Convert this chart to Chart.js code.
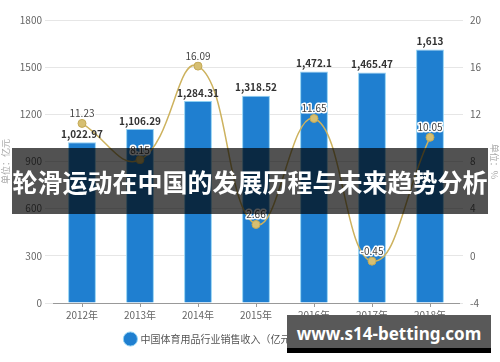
<!DOCTYPE html>
<html>
<head>
<meta charset="utf-8">
<script src="https://cdn.jsdelivr.net/npm/chart.js@4.4.0/dist/chart.umd.min.js"></script>
<style>
  body { margin: 0; background: #fff; }
  #wrap { position: relative; width: 500px; height: 362px; overflow: hidden; }
  #banner {
    position: absolute; left: 12px; top: 148px; width: 476px; height: 66px;
    background: rgba(0, 0, 0, 0.68); color: #fff;
    font: bold 25px "Noto Sans CJK SC", sans-serif; line-height: 66px;
    text-align: center; white-space: nowrap; letter-spacing: 0;
  }
  #site {
    position: absolute; left: 287px; top: 315px; width: 204px; height: 33px;
    background: #595959; border-bottom: 5px solid #000; color: #fff;
    font: bold 17px "Noto Sans", sans-serif; line-height: 38px;
    text-align: center; white-space: nowrap;
  }
</style>
</head>
<body>
<div id="wrap">
  <canvas id="myChart" width="500" height="362"></canvas>
  <div id="banner">轮滑运动在中国的发展历程与未来趋势分析</div>
  <div id="site">www.s14-betting.com</div>
</div>
<script>
var years = ['2012年', '2013年', '2014年', '2015年', '2016年', '2017年', '2018年']
var sales = [1022.97, 1106.29, 1284.31, 1318.52, 1472.1, 1465.47, 1613]
var growth = [11.23, 8.15, 16.09, 2.66, 11.65, -0.45, 10.05]
var salesName = '中国体育用品行业销售收入（亿元）'
var growthName = '增速（%）'

Chart.defaults.font.family = '"Noto Sans CJK SC", sans-serif'
Chart.defaults.font.size = 10
Chart.defaults.color = '#666'

// value labels over bars and points
var valueLabels = {
  id: 'valueLabels',
  afterDatasetsDraw(chart) {
    var ctx = chart.ctx
    ctx.save()
    ctx.textAlign = 'center'
    ctx.textBaseline = 'middle'
    ctx.font = 'bold 10px "Noto Sans CJK SC"'
    ctx.fillStyle = '#333'
    chart.getDatasetMeta(0).data.forEach((bar, i) => {
      ctx.fillText(sales[i].toLocaleString('en-US'), bar.x, bar.y - 8)
    })
    ctx.font = '10px "Noto Sans CJK SC"'
    ctx.lineWidth = 3
    ctx.lineJoin = 'round'
    ctx.strokeStyle = '#fff'
    ctx.fillStyle = '#444'
    chart.getDatasetMeta(1).data.forEach((pt, i) => {
      ctx.strokeText(String(growth[i]), pt.x, pt.y - 10)
      ctx.fillText(String(growth[i]), pt.x, pt.y - 10)
    })
    ctx.restore()
  }
}

var ctx = document.getElementById('myChart').getContext('2d')
var myChart = new Chart(ctx, {
  type: 'bar',
  data: {
    labels: years,
    datasets: [{
      type: 'bar',
      label: salesName,
      data: sales,
      backgroundColor: '#1f7fd0',
      borderColor: '#8fd0f2',
      borderWidth: 1,
      barPercentage: 0.48,
      categoryPercentage: 1,
      pointStyle: 'circle',
      yAxisID: 'y',
      order: 1
    },
    {
      type: 'line',
      label: growthName,
      data: growth,
      borderColor: '#cdb25e',
      backgroundColor: '#d6bf72',
      borderWidth: 1.5,
      pointRadius: 4,
      pointBackgroundColor: '#d6bf72',
      pointBorderColor: '#c4a955',
      pointBorderWidth: 1,
      tension: 0.45,
      fill: false,
      yAxisID: 'y1',
      order: 0
    }]
  },
  options: {
    responsive: false,
    animation: false,
    layout: { padding: { top: 20, bottom: 8, left: 0, right: 0 } },
    plugins: {
      tooltip: { enabled: false },
      legend: {
        position: 'bottom',
        labels: {
          usePointStyle: true, boxWidth: 10, padding: 10, color: '#555', font: { size: 10 },
          sort: function(a, b) { return a.datasetIndex - b.datasetIndex }
        }
      }
    },
    scales: {
      x: {
        offset: true,
        grid: { display: true, drawOnChartArea: false, offset: false, tickLength: 4, color: '#999' },
        border: { color: '#999' },
        ticks: { padding: 2, color: '#666' },
        afterFit: function(scale) { scale.height = 21 }
      },
      y: {
        position: 'left',
        min: 0,
        max: 1800,
        ticks: { stepSize: 300, padding: 3, color: '#666', callback: function(v) { return String(v) } },
        grid: { color: '#e6e6e6', tickLength: 8 },
        border: { display: false },
        title: { display: true, text: '单位：亿元', color: '#aaa', font: { size: 9 }, padding: 0 },
        afterFit: function(scale) { scale.width = 53 }
      },
      y1: {
        position: 'right',
        min: -4,
        max: 20,
        ticks: { stepSize: 4, padding: 7, color: '#666', callback: function(v) { return String(v) } },
        grid: { drawOnChartArea: false, color: '#e6e6e6', tickLength: 4 },
        border: { display: false },
        title: { display: true, text: '单位：%', color: '#aaa', font: { size: 9 }, padding: 0 },
        afterFit: function(scale) { scale.width = 41 }
      }
    }
  },
  plugins: [valueLabels]
})
</script>
</body>
</html>
